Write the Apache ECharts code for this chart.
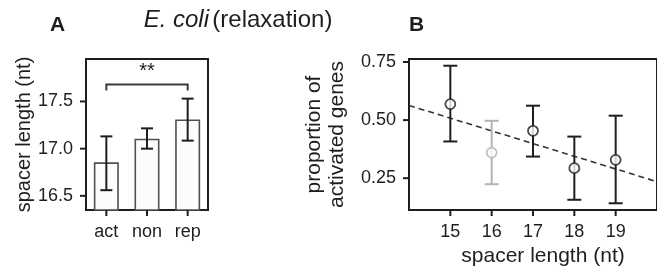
<!DOCTYPE html>
<html>
<head>
<meta charset="utf-8">
<script src="https://cdn.jsdelivr.net/npm/echarts@6/dist/echarts.min.js"></script>
<style>
  html, body { margin: 0; padding: 0; background: #fff; }
  #main { width: 657px; height: 267px; }
</style>
</head>
<body>
<div id="main"></div>
<script>
  // panel A: spacer length per gene class
  var groups = ['act', 'non', 'rep'];
  var meanLength = [16.855, 17.105, 17.31];
  var lengthLow = [16.56, 17.0, 17.085];
  var lengthHigh = [17.13, 17.215, 17.53];
  var lengthTicks = [16.5, 17.0, 17.5];
  var sigPair = [0, 2];
  var sigLevel = 17.68;
  var sigText = '**';

  // panel B: proportion of activated genes vs spacer length
  var spacer = [15, 16, 17, 18, 19];
  var propAct = [0.569, 0.36, 0.454, 0.293, 0.329];
  var propLow = [0.408, 0.224, 0.343, 0.157, 0.142];
  var propHigh = [0.734, 0.497, 0.562, 0.429, 0.519];
  var fewGenes = [false, true, false, false, false];
  var spacerTicks = [15, 16, 17, 18, 19];
  var propTicks = [0.25, 0.5, 0.75];
  var fitLine = [[14, 0.563], [20, 0.235]];

  var ink = '#1e1e1e';
  var faded = '#b4b4b4';
  var font = 'Liberation Sans';

  var chart = echarts.init(document.getElementById('main'));

  function errorBars(capHalf, colorOf) {
    return function (params, api) {
      var x = api.value(0);
      var lo = api.coord([x, api.value(1)]);
      var hi = api.coord([x, api.value(2)]);
      var c = colorOf(params.dataIndex);
      var st = { stroke: c, lineWidth: 2 };
      return {
        type: 'group',
        children: [
          { type: 'line', shape: { x1: lo[0], y1: lo[1], x2: hi[0], y2: hi[1] }, style: st },
          { type: 'line', shape: { x1: lo[0] - capHalf, y1: lo[1], x2: lo[0] + capHalf, y2: lo[1] }, style: st },
          { type: 'line', shape: { x1: hi[0] - capHalf, y1: hi[1], x2: hi[0] + capHalf, y2: hi[1] }, style: st }
        ]
      };
    };
  }

  // outward tick marks, placed through the axis scales
  function tickMarks(axisIdx, data, onX) {
    return {
      type: 'custom', xAxisIndex: axisIdx, yAxisIndex: axisIdx, z: 5, clip: false, silent: true,
      data: data,
      renderItem: function (params, api) {
        var cs = params.coordSys;
        var p = api.coord([api.value(0), api.value(1)]);
        var shape = onX
          ? { x1: p[0], y1: cs.y + cs.height, x2: p[0], y2: cs.y + cs.height + 6 }
          : { x1: cs.x - 6, y1: p[1], x2: cs.x, y2: p[1] };
        return { type: 'line', shape: shape, style: { stroke: ink, lineWidth: 2 } };
      }
    };
  }

  function label(values, fmt) {
    return { show: true, color: ink, fontFamily: font, fontSize: 18, margin: 13, customValues: values, formatter: fmt };
  }
  var noTick = { show: false };
  var axisLine = { show: true, lineStyle: { color: ink, width: 2 } };

  var option = {
    animation: false,
    graphic: [
      { type: 'text', left: 50, top: 15, style: { text: 'A', font: 'bold 21px "Liberation Sans"', fill: ink } },
      { type: 'text', left: 409, top: 15, style: { text: 'B', font: 'bold 21px "Liberation Sans"', fill: ink } },
      {
        type: 'text', x: 238, y: 20,
        style: {
          text: '{i|E. coli} {n|(relaxation)}',
          align: 'center', verticalAlign: 'middle',
          rich: {
            i: { fontFamily: font, fontSize: 24, fontStyle: 'italic', fill: ink },
            n: { fontFamily: font, fontSize: 24, fill: ink }
          }
        }
      },
      // x-axis title of panel B
      {
        type: 'text', x: 543, y: 256,
        style: { text: 'spacer length (nt)', align: 'center', verticalAlign: 'middle',
          font: '21px "Liberation Sans"', fill: ink }
      }
    ],
    grid: [
      { left: 86, top: 59, width: 122, height: 151, show: true, borderColor: ink, borderWidth: 2 },
      { left: 409, top: 59, right: -3, height: 151, show: true, borderColor: ink, borderWidth: 2 }
    ],
    xAxis: [
      {
        gridIndex: 0, type: 'category', data: groups,
        axisLine: axisLine, splitLine: { show: false }, axisTick: noTick,
        axisLabel: { show: true, color: ink, fontFamily: font, fontSize: 18, margin: 13 }
      },
      {
        gridIndex: 1, type: 'value', min: 14, max: 20,
        axisLine: axisLine, splitLine: { show: false }, axisTick: noTick,
        axisLabel: label(spacerTicks)
      }
    ],
    yAxis: [
      {
        gridIndex: 0, type: 'value', min: 16.35, max: 17.95,
        axisLine: axisLine, splitLine: { show: false }, axisTick: noTick,
        axisLabel: label(lengthTicks, function (v) { return v.toFixed(1); }),
        name: 'spacer length (nt)', nameLocation: 'middle', nameGap: 48, nameRotate: 90,
        nameTextStyle: { color: ink, fontFamily: font, fontSize: 20 }
      },
      {
        gridIndex: 1, type: 'value', min: 0.113, max: 0.763,
        axisLine: axisLine, splitLine: { show: false }, axisTick: noTick,
        axisLabel: label(propTicks, function (v) { return v.toFixed(2); }),
        name: 'proportion of\nactivated genes', nameLocation: 'middle', nameGap: 60, nameRotate: 90,
        nameTextStyle: { color: ink, fontFamily: font, fontSize: 21, lineHeight: 23 }
      }
    ],
    series: [
      {
        type: 'bar', xAxisIndex: 0, yAxisIndex: 0, data: meanLength, barWidth: 25,
        itemStyle: { color: '#fcfcfc', borderColor: '#505050', borderWidth: 1.6 }, z: 2
      },
      {
        type: 'custom', xAxisIndex: 0, yAxisIndex: 0, z: 3,
        data: groups.map(function (g, i) { return [i, lengthLow[i], lengthHigh[i]]; }),
        renderItem: errorBars(6, function () { return ink; })
      },
      {
        type: 'custom', xAxisIndex: 0, yAxisIndex: 0, z: 3,
        data: [[sigPair[0], sigPair[1], sigLevel]],
        renderItem: function (params, api) {
          var a = api.coord([api.value(0), api.value(2)]);
          var b = api.coord([api.value(1), api.value(2)]);
          var drop = 6;
          return {
            type: 'group',
            children: [
              { type: 'polyline', shape: { points: [[a[0], a[1] + drop], a, b, [b[0], b[1] + drop]] },
                style: { stroke: '#3a3a3a', lineWidth: 2, fill: null } },
              { type: 'text', style: { text: sigText, x: (a[0] + b[0]) / 2, y: a[1] - 13,
                  align: 'center', verticalAlign: 'middle', font: '20px "Liberation Sans"', fill: ink } }
            ]
          };
        }
      },
      tickMarks(0, groups.map(function (g, i) { return [i, lengthTicks[0]]; }), true),
      tickMarks(0, lengthTicks.map(function (v) { return [0, v]; }), false),
      {
        type: 'line', xAxisIndex: 1, yAxisIndex: 1, data: fitLine, symbol: 'none', z: 2,
        lineStyle: { color: '#333', width: 1.6, type: [6, 4] }
      },
      {
        type: 'custom', xAxisIndex: 1, yAxisIndex: 1, z: 3,
        data: spacer.map(function (s, i) { return [s, propLow[i], propHigh[i]]; }),
        renderItem: errorBars(7, function (i) { return fewGenes[i] ? faded : ink; })
      },
      {
        type: 'scatter', xAxisIndex: 1, yAxisIndex: 1, z: 4, symbol: 'circle', symbolSize: 10,
        data: spacer.map(function (s, i) {
          return {
            value: [s, propAct[i]],
            itemStyle: { color: '#fff', borderColor: fewGenes[i] ? faded : ink, borderWidth: 1.8 }
          };
        })
      },
      tickMarks(1, spacerTicks.map(function (v) { return [v, propTicks[0]]; }), true),
      tickMarks(1, propTicks.map(function (v) { return [spacerTicks[0], v]; }), false)
    ]
  };

  chart.setOption(option);
</script>
</body>
</html>
